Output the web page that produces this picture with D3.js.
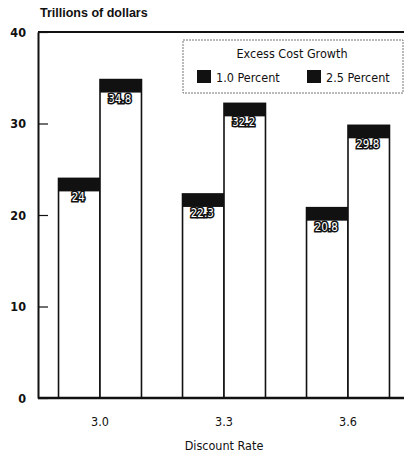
<!DOCTYPE html>
<html>
<head>
<meta charset="utf-8">
<script src="https://cdn.jsdelivr.net/npm/d3@7/dist/d3.min.js"></script>
<style>
  html, body { margin: 0; padding: 0; background: #fff; }
  svg { display: block; }
  text { font-family: "DejaVu Sans Condensed", "DejaVu Sans", sans-serif; font-stretch: condensed; fill: #111; }
  text.title { font-family: "Liberation Sans", Arial, sans-serif; font-stretch: normal; }
</style>
</head>
<body>
<svg id="chart" width="404" height="460"></svg>
<script>
// Discount rates on the x axis
const rates = ["3.0", "3.3", "3.6"];
// Excess cost growth scenarios
const seriesNames = ["1.0 Percent", "2.5 Percent"];
// Values in trillions of dollars, one array per scenario
const low = [24, 22.3, 20.8];
const high = [34.8, 32.2, 29.8];
const labels1 = ["24", "22.3", "20.8"];
const labels2 = ["34.8", "32.2", "29.8"];
const yTicks = [0, 10, 20, 30, 40];

const svg = d3.select("#chart");
const plotLeft = 38, plotRight = 410, plotTop = 32, plotBottom = 398;
const condensed = "'DejaVu Sans Condensed', 'DejaVu Sans', sans-serif";

const x = d3.scaleBand().domain(rates).range([plotLeft, plotRight])
  .paddingInner(0.331).paddingOuter(0.1655);
const sub = d3.scaleBand().domain(seriesNames).range([0, x.bandwidth()]);
const y = d3.scaleLinear().domain([0, 40]).range([plotBottom, plotTop]);

const rows = rates.map((r, i) => ({
  rate: r,
  vals: [
    { s: seriesNames[0], v: low[i], label: labels1[i] },
    { s: seriesNames[1], v: high[i], label: labels2[i] }
  ]
}));

// Title
svg.append("text").attr("class", "title").attr("x", 40).attr("y", 17)
  .attr("font-size", 12.5).attr("font-weight", "bold").text("Trillions of dollars");

// Frame: top edge
svg.append("line").attr("x1", plotLeft).attr("x2", 404).attr("y1", plotTop).attr("y2", plotTop)
  .attr("stroke", "#111").attr("stroke-width", 2);

// Y axis with inward ticks
const yAxis = d3.axisRight(y).tickValues(yTicks).tickSize(10).tickSizeOuter(0);
const gy = svg.append("g").attr("transform", `translate(${plotLeft},0)`).call(yAxis);
gy.select(".domain").attr("stroke", "#111").attr("stroke-width", 2);
gy.selectAll(".tick line").attr("stroke", "#111").attr("stroke-width", 1.2);
gy.selectAll(".tick text").attr("x", -12).attr("text-anchor", "end")
  .attr("font-size", 12.5).attr("font-family", condensed)
  .attr("fill", "#111").attr("font-weight", "bold");

// Bars
const capH = 13;
const groups = svg.append("g").selectAll("g").data(rows).join("g")
  .attr("transform", d => `translate(${x(d.rate)},0)`);

groups.selectAll("rect.bar").data(d => d.vals).join("rect")
  .attr("class", "bar")
  .attr("x", d => sub(d.s)).attr("width", sub.bandwidth())
  .attr("y", d => y(d.v)).attr("height", d => y(0) - y(d.v))
  .attr("fill", "#fff").attr("stroke", "#111").attr("stroke-width", 1.6);

groups.selectAll("rect.cap").data(d => d.vals).join("rect")
  .attr("class", "cap")
  .attr("x", d => sub(d.s)).attr("width", sub.bandwidth())
  .attr("y", d => y(d.v)).attr("height", capH)
  .attr("fill", "#111");

// Value labels below the caps
groups.selectAll("text.val").data(d => d.vals).join("text")
  .attr("class", "val")
  .attr("x", d => sub(d.s) + sub.bandwidth() / 2 - 1)
  .attr("y", d => y(d.v) + capH + 10)
  .attr("text-anchor", "middle").attr("font-size", 11.5)
  .attr("stroke", "#111").attr("stroke-width", 3).attr("paint-order", "stroke")
  .style("fill", "#fff")
  .text(d => d.label);

// Baseline
svg.append("line").attr("x1", plotLeft).attr("x2", 404).attr("y1", plotBottom).attr("y2", plotBottom)
  .attr("stroke", "#111").attr("stroke-width", 2.5);

// X axis labels
svg.append("g").selectAll("text").data(rates).join("text")
  .attr("x", d => x(d) + x.bandwidth() / 2).attr("y", 426)
  .attr("text-anchor", "middle").attr("font-size", 12.5).text(d => d);
svg.append("text").attr("x", 224).attr("y", 450).attr("text-anchor", "middle")
  .attr("font-size", 12.5).text("Discount Rate");

// Legend
const lg = svg.append("g");
lg.append("rect").attr("x", 183).attr("y", 40).attr("width", 220).attr("height", 53)
  .attr("fill", "#fff").attr("stroke", "#777").attr("stroke-width", 1)
  .attr("stroke-dasharray", "2,1");
lg.append("text").attr("x", 292).attr("y", 58).attr("text-anchor", "middle")
  .attr("font-size", 12.5).text("Excess Cost Growth");
const items = lg.selectAll("g.item").data(seriesNames).join("g")
  .attr("class", "item")
  .attr("transform", (d, i) => `translate(${197 + i * 110},70)`);
items.append("rect").attr("width", 14).attr("height", 13).attr("fill", "#111");
items.append("text").attr("x", 19).attr("y", 11.5).attr("font-size", 12.5).text(d => d);
</script>
</body>
</html>
